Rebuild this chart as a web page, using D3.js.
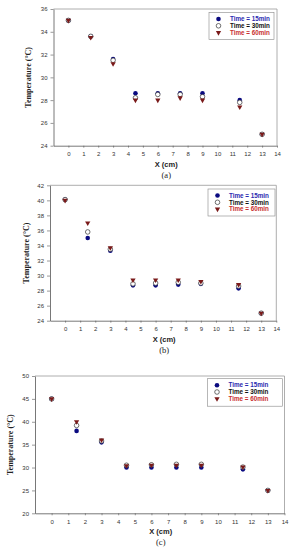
<!DOCTYPE html>
<html>
<head>
<meta charset="utf-8">
<script src="https://d3js.org/d3.v7.min.js"></script>
<style>
  body { margin: 0; background: #fff; }
  svg { display: block; }
  .tick text { font-family: Arial, "Liberation Sans", sans-serif; font-size: 6px; fill: #333; }
</style>
</head>
<body>
<div id="chart"></div>
<script>
var positions = [0, 1.5, 3, 4.5, 6, 7.5, 9, 11.5, 13];
var seriesNames = ["Time = 15min", "Time = 30min", "Time = 60min"];

// panel (a)
var a15 = [35, 33.6, 31.6, 28.6, 28.6, 28.6, 28.6, 28.0, 25];
var a30 = [35, 33.6, 31.5, 28.2, 28.5, 28.5, 28.3, 27.8, 25];
var a60 = [35, 33.5, 31.2, 28.0, 28.0, 28.2, 28.0, 27.4, 25];
// panel (b)
var b15 = [40.1, 35.0, 33.3, 28.7, 28.7, 28.8, 28.9, 28.3, 25];
var b30 = [40.1, 35.8, 33.5, 28.9, 29.0, 29.1, 29.0, 28.6, 25];
var b60 = [40.0, 37.0, 33.7, 29.4, 29.4, 29.4, 29.2, 28.8, 25];
// panel (c)
var c15 = [45, 38.0, 35.5, 30.0, 30.0, 30.0, 30.0, 29.6, 25];
var c30 = [45, 39.2, 35.8, 30.5, 30.6, 30.7, 30.7, 30.1, 25];
var c60 = [45, 40.0, 36.0, 30.4, 30.5, 30.5, 30.5, 30.1, 25];

var xTicks = d3.range(0, 15);

var panels = [
  { label: "(a)", left: 53.5, right: 277, top: 9, bottom: 145.7, yDomain: [24, 36], yStep: 2,
    series: [a15, a30, a60], legend: { x: 209, y: 12.5, w: 65, h: 27 }, yLabelX: 31 },
  { label: "(b)", left: 50, right: 276.3, top: 185.3, bottom: 320.7, yDomain: [24, 42], yStep: 2,
    series: [b15, b30, b60], legend: { x: 208, y: 189, w: 67, h: 27 }, yLabelX: 29 },
  { label: "(c)", left: 35, right: 284.5, top: 376, bottom: 513.3, yDomain: [20, 50], yStep: 5,
    series: [c15, c30, c60], legend: { x: 207.5, y: 378.7, w: 75, h: 27.5 }, yLabelX: 12.5 }
];

var markerFill = ["#0a0a80", "#ffffff", "#7a1a1a"];
var markerStroke = ["#0a0a80", "#333333", "#7a1a1a"];
var textColor = ["#2a2ab0", "#111111", "#c83030"];

var svg = d3.select("#chart").append("svg")
  .attr("width", 298)
  .attr("height", 550);

var triangle = d3.symbol().type(d3.symbolTriangle).size(12);

function drawMarker(g, k, cx, cy) {
  if (k == 2) {
    g.append("path")
      .attr("d", triangle())
      .attr("transform", "translate(" + cx + "," + cy + ") rotate(180)")
      .attr("fill", markerFill[k]);
  } else {
    g.append("circle")
      .attr("cx", cx).attr("cy", cy).attr("r", 2.3)
      .attr("fill", markerFill[k])
      .attr("stroke", markerStroke[k])
      .attr("stroke-width", k == 1 ? 0.7 : 0);
  }
}

panels.forEach(function(p) {
  var x = d3.scaleLinear().domain([-1, 14]).range([p.left, p.right]);
  var y = d3.scaleLinear().domain(p.yDomain).range([p.bottom, p.top]);

  // frame: top and right in gray
  svg.append("line")
    .attr("x1", p.left).attr("x2", p.right).attr("y1", p.top).attr("y2", p.top)
    .attr("stroke", "#999").attr("stroke-width", 0.8);
  svg.append("line")
    .attr("x1", p.right).attr("x2", p.right).attr("y1", p.top).attr("y2", p.bottom)
    .attr("stroke", "#999").attr("stroke-width", 0.8);

  var xAxis = d3.axisBottom(x).tickValues(xTicks).tickSize(2).tickPadding(4).tickSizeOuter(0);
  var gx = svg.append("g")
    .attr("transform", "translate(0," + p.bottom + ")")
    .call(xAxis);
  gx.select(".domain").attr("stroke", "#555").attr("stroke-width", 0.8);
  gx.selectAll(".tick line").attr("stroke", "#555").attr("stroke-width", 0.6);

  var yAxis = d3.axisLeft(y)
    .tickValues(d3.range(p.yDomain[0], p.yDomain[1] + 0.01, p.yStep))
    .tickSize(3).tickPadding(3).tickSizeOuter(0);
  var gy = svg.append("g")
    .attr("transform", "translate(" + p.left + ",0)")
    .call(yAxis);
  gy.select(".domain").attr("stroke", "#555").attr("stroke-width", 0.8);
  gy.selectAll(".tick line").attr("stroke", "#555").attr("stroke-width", 0.6);

  // points, later series drawn on top
  var g = svg.append("g");
  [0, 1, 2].forEach(function(k) {
    p.series[k].forEach(function(v, i) {
      drawMarker(g, k, x(positions[i]), y(v));
    });
  });

  // axis titles
  svg.append("text")
    .attr("x", (p.left + p.right) / 2 + 1)
    .attr("y", p.bottom + 21)
    .attr("text-anchor", "middle")
    .attr("font-family", "Arial, 'Liberation Sans', sans-serif")
    .attr("font-weight", "bold")
    .attr("font-size", 7.5)
    .attr("fill", "#222")
    .text("X (cm)");

  svg.append("text")
    .attr("x", (p.left + p.right) / 2 + 1)
    .attr("y", p.bottom + 32)
    .attr("text-anchor", "middle")
    .attr("font-family", "'Liberation Serif', 'DejaVu Serif', serif")
    .attr("font-size", 8.5)
    .attr("fill", "#222")
    .text(p.label);

  svg.append("text")
    .attr("transform", "translate(" + p.yLabelX + "," + ((p.top + p.bottom) / 2) + ") rotate(-90)")
    .attr("text-anchor", "middle")
    .attr("font-family", "'Liberation Serif', 'DejaVu Serif', serif")
    .attr("font-weight", "bold")
    .attr("font-size", 8)
    .attr("fill", "#222")
    .text("Temperature (\u00B0C)");

  // legend
  var lg = svg.append("g").attr("transform", "translate(" + p.legend.x + "," + p.legend.y + ")");
  lg.append("rect")
    .attr("width", p.legend.w).attr("height", p.legend.h)
    .attr("fill", "#fff").attr("stroke", "#888").attr("stroke-width", 0.6);
  seriesNames.forEach(function(name, k) {
    var ry = 6.5 + k * 6.8;
    drawMarker(lg, k, 9.5, ry);
    lg.append("text")
      .attr("x", 21).attr("y", ry + 2.2)
      .attr("font-family", "Arial, 'Liberation Sans', sans-serif")
      .attr("font-weight", "bold")
      .attr("font-size", 6.3)
      .attr("fill", textColor[k])
      .text(name);
  });
});
</script>
</body>
</html>
